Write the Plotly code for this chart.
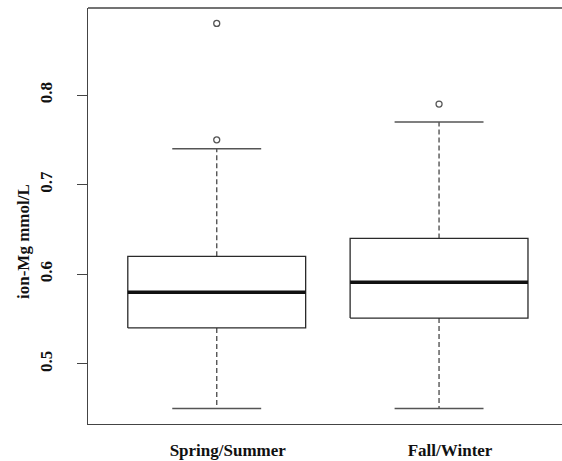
import plotly.graph_objects as go

categories = ["Spring/Summer", "Fall/Winter"]
lower_whisker = [0.45, 0.45]
q1 = [0.54, 0.551]
median = [0.58, 0.591]
q3 = [0.62, 0.64]
upper_whisker = [0.74, 0.77]
outliers = [[0.75, 0.88], [0.79]]
y_ticks = [0.5, 0.6, 0.7, 0.8]

positions = [1, 2]
half_box = 0.4
half_cap = 0.2
FONT = "Liberation Serif"
LINE = "#2a2a2a"
GREY = "#555555"

fig = go.Figure()
for i, x in enumerate(positions):
    # whiskers (dashed)
    fig.add_trace(go.Scatter(x=[x, x, None, x, x],
                             y=[q3[i], upper_whisker[i], None, q1[i], lower_whisker[i]],
                             mode="lines", line=dict(color=GREY, width=1.4, dash="5px,3px"),
                             showlegend=False, hoverinfo="skip"))
    # caps
    fig.add_trace(go.Scatter(x=[x - half_cap, x + half_cap, None, x - half_cap, x + half_cap],
                             y=[upper_whisker[i], upper_whisker[i], None, lower_whisker[i], lower_whisker[i]],
                             mode="lines", line=dict(color=GREY, width=1.5),
                             showlegend=False, hoverinfo="skip"))
    # box
    fig.add_trace(go.Scatter(x=[x - half_box, x + half_box, x + half_box, x - half_box, x - half_box],
                             y=[q1[i], q1[i], q3[i], q3[i], q1[i]],
                             mode="lines", line=dict(color=LINE, width=1.3),
                             showlegend=False, hoverinfo="skip"))
    # median
    fig.add_trace(go.Scatter(x=[x - half_box, x + half_box], y=[median[i], median[i]],
                             mode="lines", line=dict(color="#111111", width=3.5),
                             showlegend=False, hoverinfo="skip"))
    # outliers
    fig.add_trace(go.Scatter(x=[x] * len(outliers[i]), y=outliers[i], mode="markers",
                             marker=dict(symbol="circle-open", size=6, color=GREY, line=dict(width=1.3)),
                             showlegend=False, hoverinfo="skip"))

all_vals = lower_whisker + upper_whisker + [v for o in outliers for v in o]
lo, hi = min(all_vals), max(all_vals)
pad = (hi - lo) * 0.04

fig.update_layout(
    width=562, height=461,
    margin=dict(l=88, r=0, t=8, b=37),
    paper_bgcolor="white", plot_bgcolor="white",
    font=dict(family=FONT, size=17, color="#111111"),
    xaxis=dict(range=[0.421, 2.553], tickvals=positions, ticktext=[f"<b>{c}</b>" for c in categories],
               showgrid=False, zeroline=False, showline=True, linecolor="#444444", linewidth=1.4,
               ticks="", ticklabelshift=11, ticklabelstandoff=10,
               tickfont=dict(family=FONT, size=17, color="#111111")),
    yaxis=dict(range=[lo - pad, hi + pad], tickvals=y_ticks, ticktext=[f"<b>{t}</b>" for t in y_ticks],
               tickangle=-90, showgrid=False, zeroline=False, showline=True, linecolor="#444444",
               linewidth=1.4, ticks="outside", ticklen=10, tickcolor="#444444", tickwidth=1.3,
               ticklabelstandoff=18,
               tickfont=dict(family=FONT, size=17, color="#111111")),
    shapes=[dict(type="line", xref="paper", yref="paper", x0=0, x1=1, y0=1, y1=1,
                 line=dict(color="#444444", width=1.4))],
    annotations=[dict(text="<b>ion-Mg mmol/L</b>", textangle=-90, xref="paper", yref="paper",
                      x=(23 - 88) / 474, y=(424 - 242) / 416, showarrow=False,
                      xanchor="center", yanchor="middle",
                      font=dict(family=FONT, size=17, color="#111111"))],
)

fig.write_html("out.html")
